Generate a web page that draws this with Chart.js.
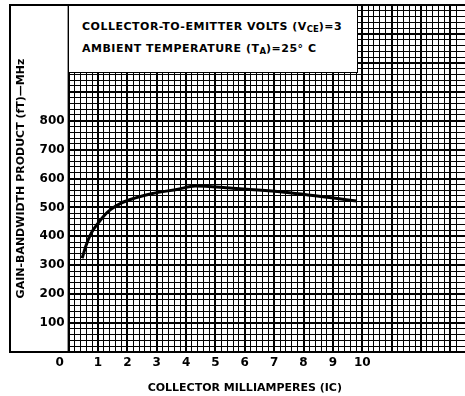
<!DOCTYPE html>
<html>
<head>
<meta charset="utf-8">
<script src="https://cdn.jsdelivr.net/npm/chart.js@4/dist/chart.umd.min.js"></script>
<style>
  body { margin: 0; background: #fff; }
  #wrap { position: relative; width: 465px; height: 396px; }
  #info {
    position: absolute; left: 68px; top: 5px; width: 290px; height: 68px;
    background: #fff; border: 1.5px solid #000; box-sizing: border-box;
    font: bold 11px "DejaVu Sans", sans-serif; color: #000;
    padding: 11px 0 0 13px; line-height: 19px; letter-spacing: 0.5px;
    white-space: nowrap;
  }
  #info sub { font-size: 8.5px; vertical-align: -2px; letter-spacing: 0; }
</style>
</head>
<body>
<div id="wrap">
  <canvas id="chartContainer" width="465" height="396"></canvas>
  <div id="info">
    <div>COLLECTOR-TO-EMITTER VOLTS (V<sub>CE</sub>)=3</div>
    <div>AMBIENT TEMPERATURE (T<sub>A</sub>)=25° C</div>
  </div>
</div>
<script>
// collector current, mA
const collectorMA = [0.46, 0.6, 0.77, 1.0, 1.23, 1.45, 1.79, 2.25, 2.82, 3.73, 4.31, 5.5, 7.2, 9.82];
// gain-bandwidth product, MHz
const gainBandwidth = [324, 370, 411, 445, 474, 494, 515, 532, 547, 563, 574, 567, 554, 522];
const yTickLabels = [100, 200, 300, 400, 500, 600, 700, 800];
const xTickLabels = [0, 1, 2, 3, 4, 5, 6, 7, 8, 9, 10];

const points = collectorMA.map((x, i) => ({ x: x, y: gainBandwidth[i] }));

function isWhole(v, unit) {
  const r = v / unit;
  return Math.abs(r - Math.round(r)) < 1e-6;
}

// left-hand box round the y title and labels
const framePlugin = {
  id: 'frame',
  afterDraw(chart) {
    const { ctx, chartArea } = chart;
    ctx.save();
    ctx.strokeStyle = '#000';
    ctx.lineWidth = 2;
    ctx.strokeRect(10, 5, chartArea.left - 10, chartArea.bottom - 5);
    ctx.beginPath();
    ctx.moveTo(10, 5);
    ctx.lineTo(chart.width, 5);
    ctx.stroke();
    ctx.restore();
  }
};

const ctx = document.getElementById('chartContainer');

new Chart(ctx, {
  type: 'line',
  data: {
    datasets: [{
      data: points,
      borderColor: '#000',
      borderWidth: 3,
      pointRadius: 0,
      cubicInterpolationMode: 'monotone',
      fill: false
    }]
  },
  options: {
    responsive: false,
    animation: false,
    devicePixelRatio: 1,
    layout: { padding: { left: 10, top: 5, right: 0, bottom: 0 } },
    plugins: { legend: { display: false }, tooltip: { enabled: false } },
    scales: {
      x: {
        type: 'linear',
        min: 0,
        max: 13.5,
        afterFit: (scale) => {
          scale.height = 44;
          scale.paddingLeft = 0;
          scale.paddingRight = 0;
        },
        border: { color: '#000', width: 2 },
        grid: {
          drawTicks: false,
          color: '#000',
          lineWidth: (c) => (c.tick && isWhole(c.tick.value, 1) ? 2 : 1)
        },
        ticks: {
          stepSize: 0.2,
          autoSkip: false,
          maxRotation: 0,
          maxTicksLimit: 1000,
          padding: 4,
          color: '#000',
          font: { family: 'DejaVu Sans', weight: 'bold', size: 12 },
          callback: (v) => {
            const n = Math.round(v);
            if (!isWhole(v, 1) || xTickLabels.indexOf(n) < 0) return '';
            return n === 0 ? '0\u2003\u2002' : String(n);
          }
        },
        title: {
          display: true,
          text: 'COLLECTOR MILLIAMPERES (IC)\u2003\u2003\u2003\u2003',
          color: '#000',
          font: { family: 'DejaVu Sans', weight: 'bold', size: 11 },
          padding: { top: 0, bottom: 1 }
        }
      },
      y: {
        min: 0,
        max: 1200,
        afterFit: (scale) => {
          scale.width = 58.6;
          scale.paddingTop = 0;
          scale.paddingBottom = 0;
        },
        border: { color: '#000', width: 2 },
        grid: {
          drawTicks: false,
          color: '#000',
          lineWidth: (c) => (c.tick && isWhole(c.tick.value, 100) ? 2 : 1)
        },
        ticks: {
          stepSize: 20,
          autoSkip: false,
          maxTicksLimit: 1000,
          padding: 4,
          color: '#000',
          font: { family: 'DejaVu Sans', weight: 'bold', size: 12 },
          callback: (v) => (yTickLabels.indexOf(v) >= 0 ? String(v) : '')
        },
        title: {
          display: true,
          text: 'GAIN-BANDWIDTH PRODUCT (fT)\u2014MHz',
          color: '#000',
          font: { family: 'DejaVu Sans', weight: 'bold', size: 11 },
          padding: { top: 5, bottom: 0 }
        }
      }
    }
  },
  plugins: [framePlugin]
});
</script>
</body>
</html>
